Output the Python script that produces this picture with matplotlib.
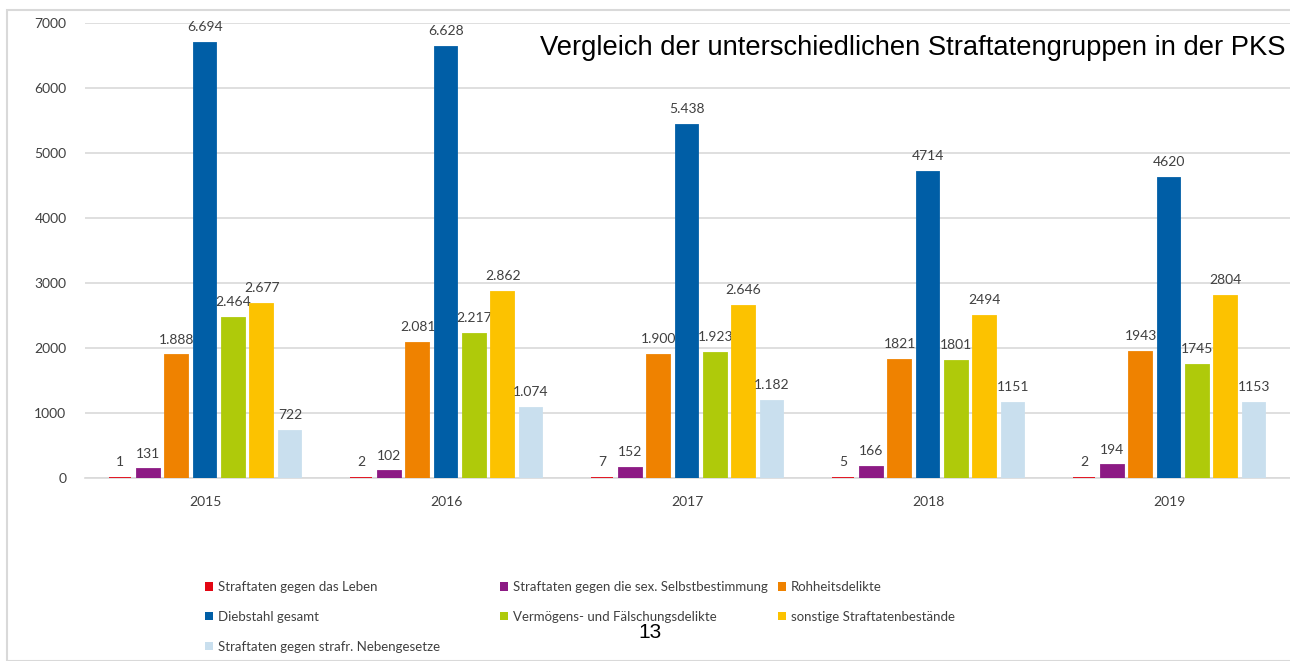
import numpy as np
import matplotlib.pyplot as plt
from matplotlib.patches import Rectangle, Patch

# Chart data (PKS, Fallzahlen je Straftatengruppe)
years = ['2015', '2016', '2017', '2018', '2019']
groups = ['Straftaten gegen das Leben',
          'Straftaten gegen die sex. Selbstbestimmung',
          'Rohheitsdelikte',
          'Diebstahl gesamt',
          'Vermögens- und Fälschungsdelikte',
          'sonstige Straftatenbestände',
          'Straftaten gegen strafr. Nebengesetze']
leben = [1, 2, 7, 5, 2]
sex_selbst = [131, 102, 152, 166, 194]
rohheit = [1888, 2081, 1900, 1821, 1943]
diebstahl = [6694, 6628, 5438, 4714, 4620]
vermoegen = [2464, 2217, 1923, 1801, 1745]
sonstige = [2677, 2862, 2646, 2494, 2804]
nebengesetze = [722, 1074, 1182, 1151, 1153]

# Labels as printed in the source (first years with thousands dot)
label_texts = [
    ['1', '2', '7', '5', '2'],
    ['131', '102', '152', '166', '194'],
    ['1.888', '2.081', '1.900', '1821', '1943'],
    ['6.694', '6.628', '5.438', '4714', '4620'],
    ['2.464', '2.217', '1.923', '1801', '1745'],
    ['2.677', '2.862', '2.646', '2494', '2804'],
    ['722', '1.074', '1.182', '1151', '1153'],
]

colors = ['#e30613', '#8c1a84', '#ef8200', '#005ea6', '#afca0a', '#fcc200', '#c9dfee']
series = [leben, sex_selbst, rohheit, diebstahl, vermoegen, sonstige, nebengesetze]

W, H = 1290, 661
fig = plt.figure(figsize=(W / 100, H / 100), dpi=100)
font = ['Lato', 'DejaVu Sans']
txt_col = '#404040'

# light frame around the chart area
fig.patches.append(Rectangle((7 / W, 0), 1, 1 - 10 / H, transform=fig.transFigure,
                             facecolor='none', edgecolor='#d9d9d9', linewidth=1.5))

ax = fig.add_axes([84.5 / W, 183 / H, 1205 / W, 455 / H])
x = np.arange(len(years))
pitch = 0.1175
width = 0.095

for i, (vals, col) in enumerate(zip(series, colors)):
    pos = x + (i - 3) * pitch
    ax.bar(pos, vals, width=width, color=col, edgecolor=col, linewidth=1.3, zorder=3)
    for p, v, t in zip(pos, vals, label_texts[i]):
        ax.annotate(t, (p, v), xytext=(0, 7), textcoords='offset points',
                    ha='center', va='bottom', fontsize=10, family=font, color=txt_col)

ax.set_xlim(-0.5, len(years) - 0.5)
ax.set_ylim(0, 7000)
ax.set_yticks(np.arange(0, 7001, 1000))
ax.yaxis.grid(True, color='#d9d9d9', linewidth=1.2, zorder=0)
ax.set_axisbelow(True)
for s in ['top', 'right', 'left']:
    ax.spines[s].set_visible(False)
ax.spines['bottom'].set_color('#d9d9d9')
ax.spines['bottom'].set_linewidth(1.2)
ax.set_xticks(x)
ax.set_xticklabels(years, family=font, fontsize=10, color=txt_col)
ax.tick_params(axis='both', length=0)
ax.tick_params(axis='x', pad=13)
ax.tick_params(axis='y', pad=13)
for lab in ax.get_yticklabels():
    lab.set_family(font)
    lab.set_fontsize(10)
    lab.set_color(txt_col)

fig.text(1285 / W, 1 - 48 / H, 'Vergleich der unterschiedlichen Straftatengruppen in der PKS',
         ha='right', va='center', fontsize=19.7, family=['Liberation Sans', 'DejaVu Sans'],
         color='black')

# legend: three columns at fixed positions, filled row by row
handles = [Patch(facecolor=c, edgecolor='none') for c in colors]
col_x = [205, 500, 778]
for c in range(3):
    idx = list(range(c, len(groups), 3))
    fig.legend([handles[k] for k in idx], [groups[k] for k in idx],
               loc='upper left', bbox_to_anchor=(col_x[c] / W, 1 - 581 / H),
               frameon=False, prop={'family': font, 'size': 9.5},
               handlelength=0.6, handleheight=0.6, handletextpad=0.35,
               labelspacing=1.35, borderpad=0, borderaxespad=0,
               labelcolor=txt_col)

fig.text(650 / W, 1 - 633 / H, '13', ha='center', va='center', fontsize=15,
         family=['Liberation Sans', 'DejaVu Sans'], color='black')

fig.savefig('out.png', dpi=100)
